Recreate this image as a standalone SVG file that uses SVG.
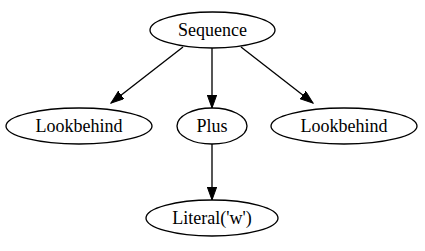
<svg xmlns="http://www.w3.org/2000/svg" width="425" height="251" viewBox="0 0 425 251">
  <style>
    .node ellipse { fill: none; stroke: #000; stroke-width: 1.33; }
    .node text { font-size: 18px; text-anchor: middle; fill: #000; }
    .edge { stroke: #000; stroke-width: 1.33; fill: none; marker-end: url(#arrow); }
  </style>
  <defs>
    <marker id="arrow" markerWidth="14" markerHeight="10" refX="13" refY="4.7" orient="auto" markerUnits="userSpaceOnUse">
      <polygon points="0,0 13,4.7 0,9.4" fill="#000" stroke="#000" stroke-width="1"/>
    </marker>
  </defs>
  <rect width="425" height="251" fill="#fff"/>

  <g id="connectors">
    <line class="edge" x1="183" y1="47" x2="111" y2="103"/>
    <line class="edge" x1="212" y1="48" x2="212" y2="108"/>
    <line class="edge" x1="241" y1="47" x2="313" y2="103"/>
    <line class="edge" x1="212" y1="144" x2="212" y2="200"/>
  </g>

  <g id="nodes" font-family="'Liberation Serif', 'Times New Roman', Times, serif">
    <g id="sequence" class="node">
      <ellipse cx="212.5" cy="30" rx="62.5" ry="18"/>
      <text x="212.5" y="36">Sequence</text>
    </g>
    <g id="lookbehind-left" class="node">
      <ellipse cx="79" cy="126" rx="73" ry="18"/>
      <text x="79" y="132">Lookbehind</text>
    </g>
    <g id="plus" class="node">
      <ellipse cx="212" cy="126" rx="35" ry="18"/>
      <text x="212" y="132">Plus</text>
    </g>
    <g id="lookbehind-right" class="node">
      <ellipse cx="344" cy="126" rx="73" ry="18"/>
      <text x="344" y="132">Lookbehind</text>
    </g>
    <g id="literal-w" class="node">
      <ellipse cx="212" cy="218" rx="66" ry="18"/>
      <text x="212" y="224">Literal('w')</text>
    </g>
  </g>
</svg>
